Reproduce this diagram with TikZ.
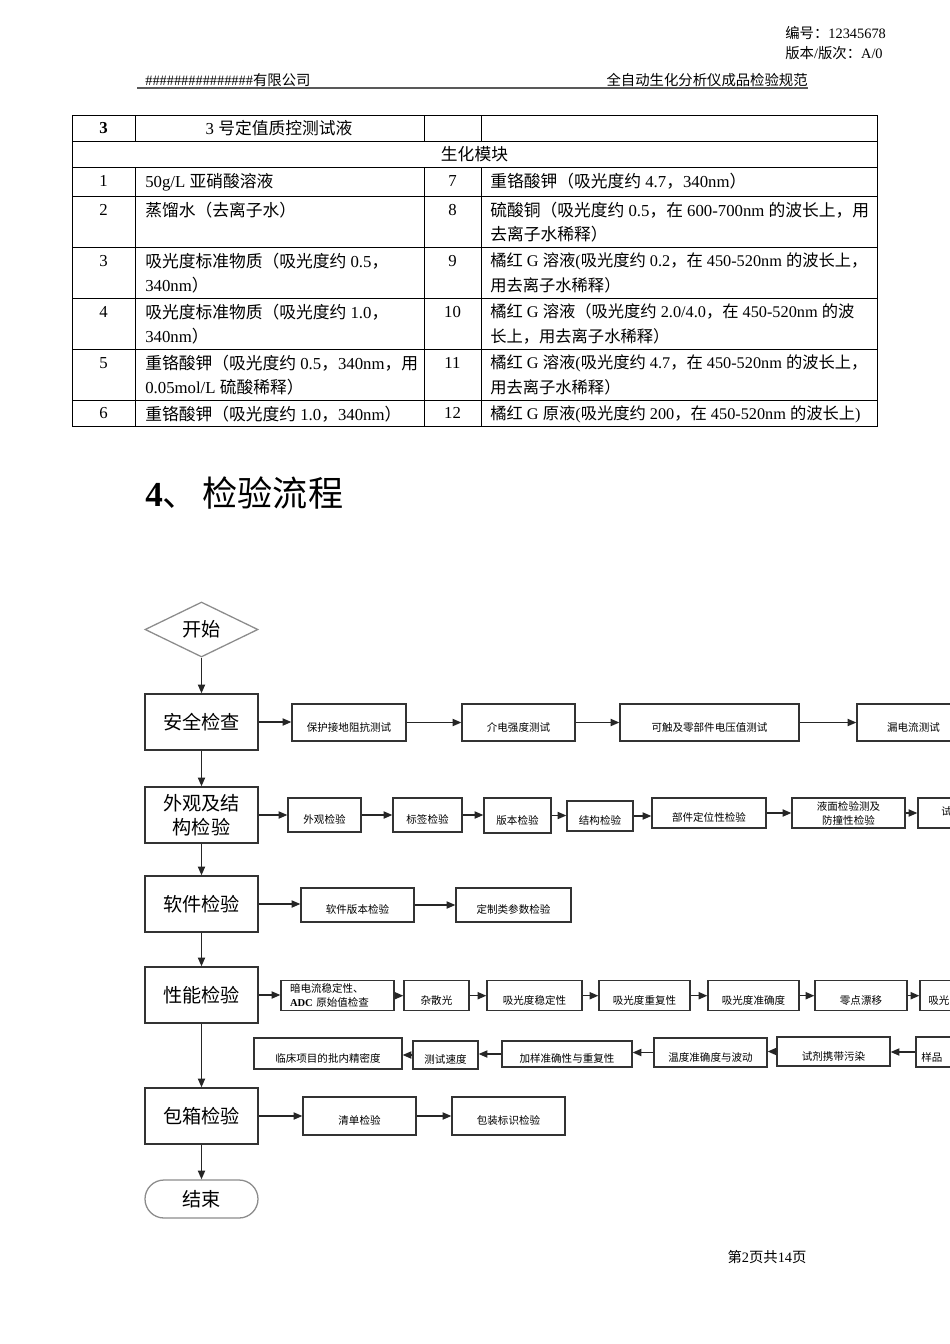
\documentclass[tikz,border=0pt]{standalone}
\usepackage{fontspec}
\setmainfont{Liberation Serif}
\newfontfamily\cjk{Noto Sans CJK SC}
\usetikzlibrary{arrows.meta,shapes.geometric,shapes.misc}

% switch to the CJK family for Chinese characters
\chardef\cjkcls=100
\newcount\cjkcnt
\def\setcjkrange#1#2{\cjkcnt=#1\relax
  \loop\XeTeXcharclass\cjkcnt=\cjkcls
  \ifnum\cjkcnt<#2\relax\advance\cjkcnt by 1\relax\repeat}
\setcjkrange{"3000}{"303F}
\setcjkrange{"4E00}{"9FFF}
\setcjkrange{"FF00}{"FFEF}
\XeTeXinterchartoks 0 \cjkcls = {\begingroup\cjk}
\XeTeXinterchartoks 4095 \cjkcls = {\begingroup\cjk}
\XeTeXinterchartoks \cjkcls 0 = {\endgroup}
\XeTeXinterchartoks \cjkcls 4095 = {\endgroup}
\XeTeXinterchartokenstate=1

\newcommand{\pxu}{0.6266pt}

\begin{document}
\begin{tikzpicture}[x=0.6266pt,y=-0.6266pt,
  tline/.style={draw=black,line width=0.6pt},
  cell/.style={font=\fontsize{10.5}{15.5}\selectfont,inner sep=0pt,align=left,anchor=north west},
  tight/.style={font=\fontsize{10.2}{15.5}\selectfont},
  num/.style={font=\fontsize{10.5}{15.5}\selectfont,inner sep=0pt,anchor=base},
  hdr/.style={font=\fontsize{9}{11}\selectfont,inner sep=0pt},
  bx/.style 2 args={minimum width=#1*\pxu,minimum height=#2*\pxu},
  bigbox/.style={draw=black!80,line width=0.9pt,bx={113}{56},inner sep=0pt,align=center,font=\fontsize{12}{15}\selectfont},
  sbox/.style={draw=black!80,line width=0.8pt,inner sep=0pt,font=\fontsize{6.6}{8.8}\selectfont,text height=12pt,text depth=0.8pt},
  sbox2/.style={draw=black!80,line width=0.8pt,inner sep=0pt,font=\fontsize{6.6}{8.8}\selectfont},
  stxt/.style={inner sep=0pt,font=\fontsize{6.6}{8.8}\selectfont,anchor=west},
  flow/.style={draw=black!85,line width=0.9pt,-{Triangle[length=5.5pt,width=4.5pt]}},
]
\fill[white] (0,0) rectangle (950,1344);
\useasboundingbox (0,0) rectangle (950,1344);
\clip (0,0) rectangle (950,1344);

% page header
\node[hdr,anchor=west] (docno) at (785,33) {编号：12345678};
\node[hdr,anchor=west] (docver) at (785,53) {版本/版次：A/0};
\node[hdr,anchor=west] (corp) at (145,80) {\#\#\#\#\#\#\#\#\#\#\#\#\#\#\#有限公司};
\node[hdr,anchor=east] (spec) at (808,80) {全自动生化分析仪成品检验规范};
\draw[black!65,line width=1.8pt] (137,88) -- (808,88);

% reagent table
\draw[tline] (72,115) rectangle (877,426);
\foreach \y in {141,167,196,247,298,349,400}
  \draw[tline] (72,\y) -- (877,\y);
\foreach \x in {135,424,481} {
  \draw[tline] (\x,115) -- (\x,141);
  \draw[tline] (\x,167) -- (\x,426);
}
\node[num,font=\fontsize{10.5}{15.5}\selectfont\bfseries] (n0) at (103.5,133.5) {3};
\node[num] (c0) at (279,134) {3 号定值质控测试液};
\node[num] (modl) at (474.5,160) {生化模块};

\node[num] (n1) at (103.5,186.5) {1};
\node[cell] (c1) at (145,172.5) {50g/L 亚硝酸溶液};
\node[num] (n7) at (452.5,186.5) {7};
\node[cell] (c7) at (490,172.5) {重铬酸钾（吸光度约 4.7，340nm）};

\node[num] (n2) at (103.5,215.5) {2};
\node[cell] (c2) at (145,201.5) {蒸馏水（去离子水）};
\node[num] (n8) at (452.5,215.5) {8};
\node[cell] (c8) at (490,201.5) {硫酸铜（吸光度约 0.5，在 600-700nm 的波长上，用\\去离子水稀释）};

\node[num] (n3) at (103.5,266.5) {3};
\node[cell] (c3) at (145,252.5) {吸光度标准物质（吸光度约 0.5，\\340nm）};
\node[num] (n9) at (452.5,266.5) {9};
\node[cell,tight] (c9) at (490,252.5) {橘红 G 溶液(吸光度约 0.2，在 450-520nm 的波长上，\\用去离子水稀释）};

\node[num] (n4) at (103.5,317.5) {4};
\node[cell] (c4) at (145,303.5) {吸光度标准物质（吸光度约 1.0，\\340nm）};
\node[num] (n10) at (452.5,317.5) {10};
\node[cell,tight] (c10) at (490,303.5) {橘红 G 溶液（吸光度约 2.0/4.0，在 450-520nm 的波\\长上，用去离子水稀释）};

\node[num] (n5) at (103.5,368.5) {5};
\node[cell] (c5) at (145,354.5) {重铬酸钾（吸光度约 0.5，340nm，用\\0.05mol/L 硫酸稀释）};
\node[num] (n11) at (452.5,368.5) {11};
\node[cell,tight] (c11) at (490,354.5) {橘红 G 溶液(吸光度约 4.7，在 450-520nm 的波长上，\\用去离子水稀释）};

\node[num] (n6) at (103.5,418.5) {6};
\node[cell] (c6) at (145,405.5) {重铬酸钾（吸光度约 1.0，340nm）};
\node[num] (n12) at (452.5,418.5) {12};
\node[cell,tight] (c12) at (490,405.5) {橘红 G 原液(吸光度约 200，在 450-520nm 的波长上)};

% section title
\node[anchor=west,inner sep=0pt,font=\fontsize{22}{26}\selectfont] (sect) at (145,493) {{\bfseries 4}、\hspace{3pt}检验流程};

% main flow
\node[diamond,aspect=2,draw=black!45,line width=0.8pt,inner sep=0pt,bx={113}{55},font=\fontsize{12}{15}\selectfont] (start) at (201.5,629.5) {开始};
\node[bigbox] (sec) at (201.5,722) {安全检查};
\node[bigbox] (look) at (201.5,815) {外观及结\\构检验};
\node[bigbox] (soft) at (201.5,904) {软件检验};
\node[bigbox] (perf) at (201.5,995) {性能检验};
\node[bigbox] (pack) at (201.5,1116) {包箱检验};
\node[rounded rectangle,draw=black!45,line width=0.8pt,inner sep=0pt,bx={113}{38},font=\fontsize{12}{15}\selectfont] (stop) at (201.5,1199) {结束};

% safety row
\node[sbox,bx={114}{37}] (s1) at (349,722.5) {保护接地阻抗测试};
\node[sbox,bx={113}{37}] (s2) at (518.5,722.5) {介电强度测试};
\node[sbox,bx={179}{37}] (s3) at (709.5,722.5) {可触及零部件电压值测试};
\node[sbox,bx={113}{37}] (s4) at (913.5,722.5) {漏电流测试};

% appearance row
\node[sbox,bx={73}{34}] (a1) at (324.5,815) {外观检验};
\node[sbox,bx={69}{34}] (a2) at (427.5,815) {标签检验};
\node[sbox,bx={67}{35}] (a3) at (517.5,815.5) {版本检验};
\node[sbox,bx={66}{30}] (a4) at (600,816) {结构检验};
\node[sbox,bx={114}{30}] (a5) at (709,813) {部件定位性检验};
\node[sbox2,bx={113}{30},align=center] (a6) at (848.5,813) {液面检验测及\\防撞性检验};
\node[sbox2,bx={113}{30}] (a7) at (974.5,813) {};
\node[stxt] (a7t) at (941,811) {试};

% software row
\node[sbox,bx={113}{34}] (w1) at (357.5,905) {软件版本检验};
\node[sbox,bx={115}{34}] (w2) at (513.5,905) {定制类参数检验};

% performance rows
\node[sbox2,bx={113}{30},text width=95*\pxu,align=left] (p1) at (337.5,995.7) {暗电流稳定性、\\{\bfseries ADC} 原始值检查};
\node[sbox,bx={65}{30}] (p2) at (436.5,995.7) {杂散光};
\node[sbox,bx={95}{30}] (p3) at (534.5,995.7) {吸光度稳定性};
\node[sbox,bx={91}{30}] (p4) at (644.5,995.7) {吸光度重复性};
\node[sbox,bx={91}{30}] (p5) at (753.5,995.7) {吸光度准确度};
\node[sbox,bx={92}{30}] (p6) at (861,995.7) {零点漂移};
\node[sbox2,bx={91}{30}] (p7) at (965.5,995.7) {};
\node[stxt] (p7t) at (928,1000) {吸光};

\node[sbox,bx={148}{31}] (q1) at (328,1053.5) {临床项目的批内精密度};
\node[sbox,bx={65}{28}] (q2) at (445.5,1055) {测试速度};
\node[sbox,bx={130}{26}] (q3) at (567,1054) {加样准确性与重复性};
\node[sbox,bx={113}{29}] (q4) at (710.5,1052.5) {温度准确度与波动};
\node[sbox,bx={113}{29}] (q5) at (833.5,1051.5) {试剂携带污染};
\node[sbox2,bx={113}{30}] (q6) at (972.5,1052) {};
\node[stxt] (q6t) at (921,1057) {样品};

% packing row
\node[sbox,bx={113}{38}] (b1) at (359.5,1116) {清单检验};
\node[sbox,bx={113}{38}] (b2) at (508.5,1116) {包装标识检验};

% connectors
\foreach \a/\b in {start/sec,sec/look,look/soft,soft/perf,perf/pack,pack/stop}
  \draw[flow] (\a.south) -- (\b.north);
\foreach \a/\b in {sec/s1,s1/s2,s2/s3,s3/s4,
                   look/a1,a1/a2,a2/a3,a3/a4,a4/a5,a5/a6,a6/a7,
                   soft/w1,w1/w2,
                   perf/p1,p1/p2,p2/p3,p3/p4,p4/p5,p5/p6,p6/p7,
                   pack/b1,b1/b2}
  \draw[flow] (\a.east) -- (\a.east -| \b.west);
\foreach \a/\b in {q6/q5,q5/q4,q4/q3,q3/q2,q2/q1}
  \draw[flow] (\a.west) -- (\a.west -| \b.east);

% page footer
\node[hdr] (foot) at (767,1257) {第2页共14页};
\end{tikzpicture}
\end{document}
